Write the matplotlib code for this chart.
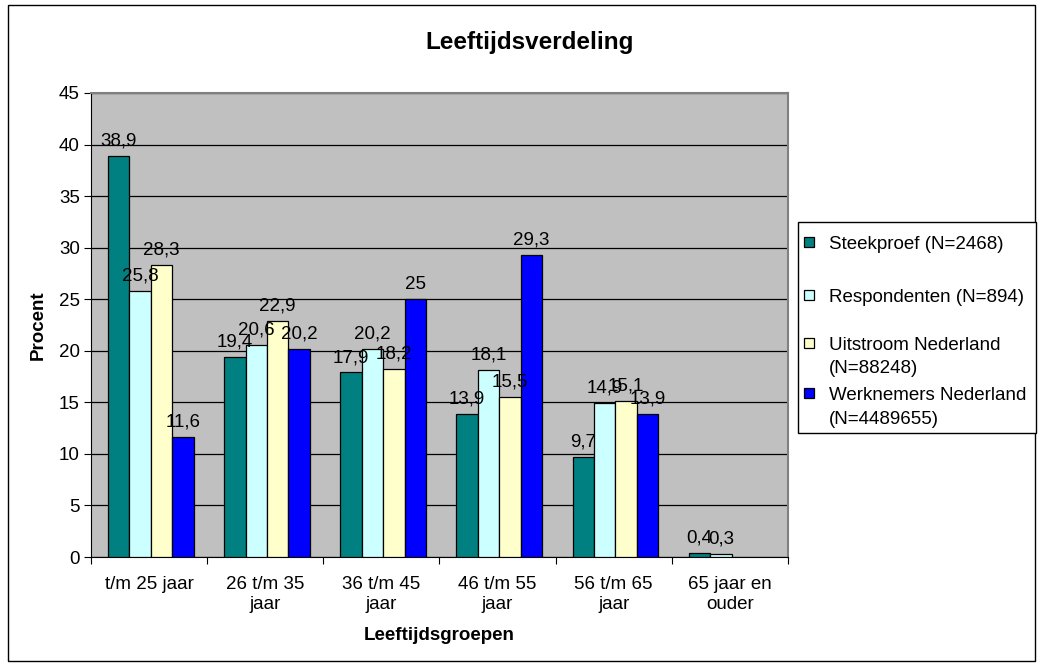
import numpy as np
import matplotlib.pyplot as plt
from matplotlib.patches import Rectangle

plt.rcParams['font.family'] = ['Liberation Sans', 'DejaVu Sans']

categories = ['t/m 25 jaar', '26 t/m 35\njaar', '36 t/m 45\njaar', '46 t/m 55\njaar',
              '56 t/m 65\njaar', '65 jaar en\nouder']
series_names = ['Steekproef (N=2468)', 'Respondenten (N=894)',
                'Uitstroom Nederland\n(N=88248)', 'Werknemers Nederland\n(N=4489655)']
steekproef = [38.9, 19.4, 17.9, 13.9, 9.7, 0.4]
respondenten = [25.8, 20.6, 20.2, 18.1, 14.9, 0.3]
uitstroom = [28.3, 22.9, 18.2, 15.5, 15.1, np.nan]
werknemers = [11.6, 20.2, 25.0, 29.3, 13.9, np.nan]
colors = ['#008080', '#CCFFFF', '#FFFFCC', '#0000FF']

W, H = 1042, 665
fs = 13.5


def fx(px):
    return px / W


def fy(py):
    return 1 - py / H


fig = plt.figure(figsize=(W / 100, H / 100), dpi=100)
fig.patches.append(Rectangle((fx(8), fy(661)), fx(1035 - 8), 656 / H,
                             transform=fig.transFigure, fill=False, ec='black', lw=1))
ax = fig.add_axes([fx(91), fy(557), fx(697), 464 / H])
ax.set_facecolor('#C0C0C0')

x = np.arange(len(categories))
w = 0.185
all_series = [steekproef, respondenten, uitstroom, werknemers]
for i, (vals, c) in enumerate(zip(all_series, colors)):
    pos = x + (i - 1.5) * w + 0.015
    ax.bar(pos, vals, w, color=c, edgecolor='black', lw=0.9, zorder=3)
    for p, v in zip(pos, vals):
        if np.isnan(v):
            continue
        s = ('%g' % v).replace('.', ',')
        ax.annotate(s, (p, v), xytext=(0, 7.5), textcoords='offset points',
                    ha='center', va='baseline', fontsize=fs, zorder=4)

ax.set_xlim(-0.5, len(categories) - 0.5)
ax.set_ylim(0, 45)
ax.set_yticks(range(0, 46, 5))
ax.yaxis.grid(True, color='black', lw=0.9, zorder=1)
ax.set_xticks(np.arange(len(categories) + 1) - 0.5)
ax.set_xticklabels([])
ax.set_xticks(x, minor=True)
ax.set_xticklabels(categories, minor=True, fontsize=fs, linespacing=1.2)
ax.tick_params(axis='x', which='minor', length=0, pad=14)
ax.tick_params(axis='x', which='major', length=5, direction='out')
ax.tick_params(axis='y', labelsize=fs, length=5, pad=3)
for side in ['top', 'right']:
    ax.spines[side].set_color('#808080')
    ax.spines[side].set_linewidth(1.5)

fig.text(fx(530), fy(43), 'Leeftijdsverdeling', fontsize=17.5, fontweight='bold',
         ha='center', va='center')
fig.text(fx(38), fy(325), 'Procent', fontsize=fs, fontweight='bold',
         rotation=90, ha='center', va='center')
fig.text(fx(439), fy(635), 'Leeftijdsgroepen', fontsize=fs, fontweight='bold',
         ha='center', va='center')

# legend box, entries anchored on their first line
fig.patches.append(Rectangle((fx(798), fy(433)), fx(1036 - 798), (433 - 222) / H,
                             transform=fig.transFigure, fc='white', ec='black', lw=1))
line_y = [[242], [295], [343, 366], [393, 417]]
for name, c, ys in zip(series_names, colors, line_y):
    fig.patches.append(Rectangle((fx(804), fy(ys[0] + 5)), fx(10), 10 / H,
                                 transform=fig.transFigure, fc=c, ec='black', lw=0.9))
    for line, yy in zip(name.split('\n'), ys):
        fig.text(fx(829), fy(yy + 7), line, fontsize=fs, ha='left', va='baseline')

fig.savefig('out.png', dpi=100)
